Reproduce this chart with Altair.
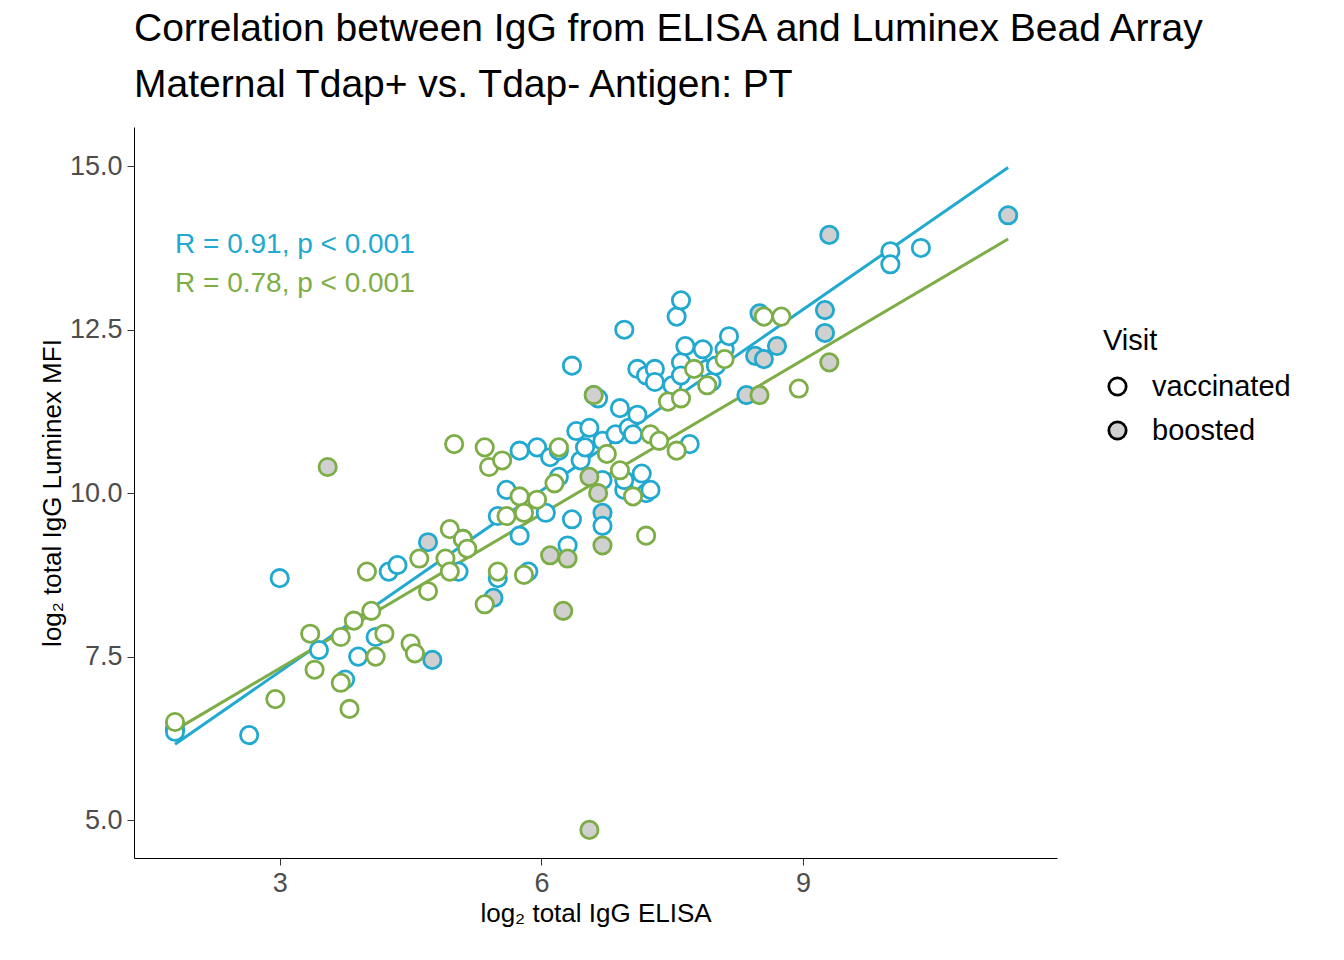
import pandas as pd
import altair as alt

# mTdap- points (x, y, visit)
minus_x = [1.8, 1.8, 2.65, 3.0, 3.45, 3.75, 3.9, 4.1, 4.25, 4.35, 4.75, 4.7, 5.1, 5.05, 5.45, 5.5, 5.5, 5.6, 5.75, 5.75,
           5.85, 5.95, 6.05, 6.1, 6.2, 6.2, 6.3, 6.35, 6.35, 6.4, 6.45, 6.5, 6.55, 6.6, 6.65, 6.7, 6.7, 6.7, 6.7, 6.85,
           6.9, 6.95, 6.95, 6.95, 7.0, 7.05, 7.1, 7.1, 7.15, 7.2, 7.2, 7.25, 7.3, 7.3, 7.5, 7.55, 7.6, 7.6, 7.6, 7.65,
           7.7, 7.85, 7.9, 7.95, 8.0, 8.1, 8.15, 8.35, 8.45, 8.5, 8.55, 8.7, 9.25, 9.25, 9.3, 10.0, 10.0, 10.35, 11.35]
minus_y = [6.4, 6.35, 6.3, 8.7, 7.6, 7.15, 7.5, 7.8, 8.8, 8.9, 7.45, 9.25, 9.3, 8.8, 8.4, 8.7, 9.65, 10.05, 10.65, 9.35,
           8.8, 10.7, 9.7, 10.55, 10.65, 10.25, 9.2, 9.6, 11.95, 10.95, 10.5, 10.7, 11.0, 11.5, 11.45, 10.8, 9.7, 9.5, 10.2, 10.9,
           11.3, 12.5, 10.05, 10.2, 11.0, 10.9, 11.9, 11.2, 10.3, 10.0, 11.8, 10.05, 11.9, 11.7, 11.65, 12.7, 12.0, 11.8, 12.95, 12.25,
           10.75, 12.2, 11.9, 11.7, 11.95, 12.2, 12.4, 11.5, 12.1, 12.75, 12.05, 12.25, 12.8, 12.45, 13.95, 13.7, 13.5, 13.75, 14.25]
minus_boosted = {10, 11, 14, 36, 67, 68, 69, 70, 71, 72, 73, 74, 78}

# mTdap+ points
plus_x = [1.8, 2.95, 3.35, 3.4, 3.55, 3.7, 3.8, 3.85, 3.7, 4.0, 4.05, 4.1, 4.2, 4.5, 4.55, 4.6, 4.7, 4.9, 4.95, 4.95,
          5.0, 5.1, 5.15, 5.35, 5.35, 5.4, 5.55, 5.5, 5.6, 5.75, 5.8, 5.8, 5.95, 6.1, 6.15, 6.2, 6.25, 6.3, 6.55, 6.55,
          6.6, 6.65, 6.7, 6.75, 6.9, 7.05, 7.2, 7.25, 7.35, 7.45, 7.55, 7.6, 7.75, 7.9, 8.1, 8.5, 8.55, 8.75, 8.95, 9.3]
plus_y = [6.5, 6.85, 7.85, 7.3, 10.4, 7.1, 6.7, 8.05, 7.8, 8.8, 8.2, 7.5, 7.85, 7.7, 7.55, 9.0, 8.5, 9.0, 8.8, 9.45,
          10.75, 9.3, 9.15, 10.7, 8.3, 10.4, 10.5, 8.8, 9.65, 9.95, 8.75, 9.7, 9.9, 9.05, 10.15, 10.7, 8.2, 9.0, 4.85, 10.25,
          11.5, 10.0, 9.2, 10.6, 10.35, 9.95, 9.35, 10.9, 10.8, 11.4, 10.65, 11.45, 11.9, 11.65, 12.05, 11.5, 12.7, 12.7, 11.6, 12.0]
plus_boosted = {4, 33, 36, 37, 38, 39, 40, 41, 42, 55, 59}

rows = []
for i, (x, y) in enumerate(zip(minus_x, minus_y)):
    rows.append({'elisa': x, 'lum': y, 'arm': 'mTdap-', 'visit': 'boosted' if i in minus_boosted else 'vaccinated'})
for i, (x, y) in enumerate(zip(plus_x, plus_y)):
    rows.append({'elisa': x, 'lum': y, 'arm': 'mTdap+', 'visit': 'boosted' if i in plus_boosted else 'vaccinated'})
df = pd.DataFrame(rows)

blue, green = '#21a9d0', '#7dad47'
arm_scale = alt.Scale(domain=['mTdap-', 'mTdap+'], range=[blue, green])
xs = alt.Scale(domain=[1.33, 11.91], nice=False, zero=False)
ys = alt.Scale(domain=[4.42, 15.6], nice=False, zero=False)

base = alt.Chart(df)

lines = base.mark_line(strokeWidth=3).encode(
    x=alt.X('elisa:Q', scale=xs),
    y=alt.Y('lum:Q', scale=ys),
    stroke=alt.Stroke('arm:N', scale=arm_scale, legend=None)
).transform_regression('elisa', 'lum', groupby=['arm'], extent=[1.8, 11.35])

points = base.mark_point(size=300, strokeWidth=2.8, opacity=1, filled=False).encode(
    x=alt.X('elisa:Q', scale=xs, title='log₂ total IgG ELISA',
            axis=alt.Axis(values=[3, 6, 9], format='d')),
    y=alt.Y('lum:Q', scale=ys, title='log₂ total IgG Luminex MFI',
            axis=alt.Axis(values=[5, 7.5, 10, 12.5, 15], format='.1f')),
    stroke=alt.Stroke('arm:N', scale=arm_scale,
                      legend=alt.Legend(title='Study Arm', orient='none', legendX=969, legendY=395,
                                        symbolFillColor='white', symbolStrokeWidth=2.8, symbolSize=300)),
    fill=alt.Fill('visit:N', scale=alt.Scale(domain=['vaccinated', 'boosted'], range=['white', '#d0d0d0']),
                  legend=alt.Legend(title='Visit', orient='none', legendX=969, legendY=200,
                                    symbolStrokeColor='black', symbolStrokeWidth=2.8, symbolSize=300))
)

ann = alt.Chart(pd.DataFrame({
    'x': [1.8, 1.8], 'y': [13.8, 13.2],
    't': ['R = 0.91, p < 0.001', 'R = 0.78, p < 0.001'], 'arm': ['mTdap-', 'mTdap+']
})).mark_text(align='left', fontSize=28, font='Liberation Sans').encode(
    x=alt.X('x:Q', scale=xs), y=alt.Y('y:Q', scale=ys),
    text='t:N', color=alt.Color('arm:N', scale=arm_scale, legend=None)
)

chart = alt.layer(lines, points, ann).properties(
    width=923, height=731,
    autosize=alt.AutoSizeParams(type='none'),
    padding={'left': 126, 'top': 119, 'right': 270, 'bottom': 90},
    title=alt.Title(['Correlation between IgG from ELISA and Luminex Bead Array',
                    'Maternal Tdap+ vs. Tdap- Antigen: PT'],
                    anchor='start', frame='group', fontSize=39, fontWeight='normal', font='Liberation Sans',
                    color='black', offset=22, lineHeight=56)
).configure_axis(
    grid=False, domainColor='black', tickColor='#333333', labelColor='#4d4d4d',
    labelFontSize=27, titleFontSize=26, titleFontWeight='normal', titleColor='black',
    labelFont='Liberation Sans', titleFont='Liberation Sans', tickSize=7, labelPadding=5
).configure_legend(
    titleFontSize=29, labelFontSize=29, titleFontWeight='normal', titleFont='Liberation Sans',
    labelFont='Liberation Sans', labelColor='black', titlePadding=16, rowPadding=14, labelOffset=20
).configure_view(strokeWidth=0)

chart.save("out.html", embed_options={"renderer": "svg", "actions": False})
